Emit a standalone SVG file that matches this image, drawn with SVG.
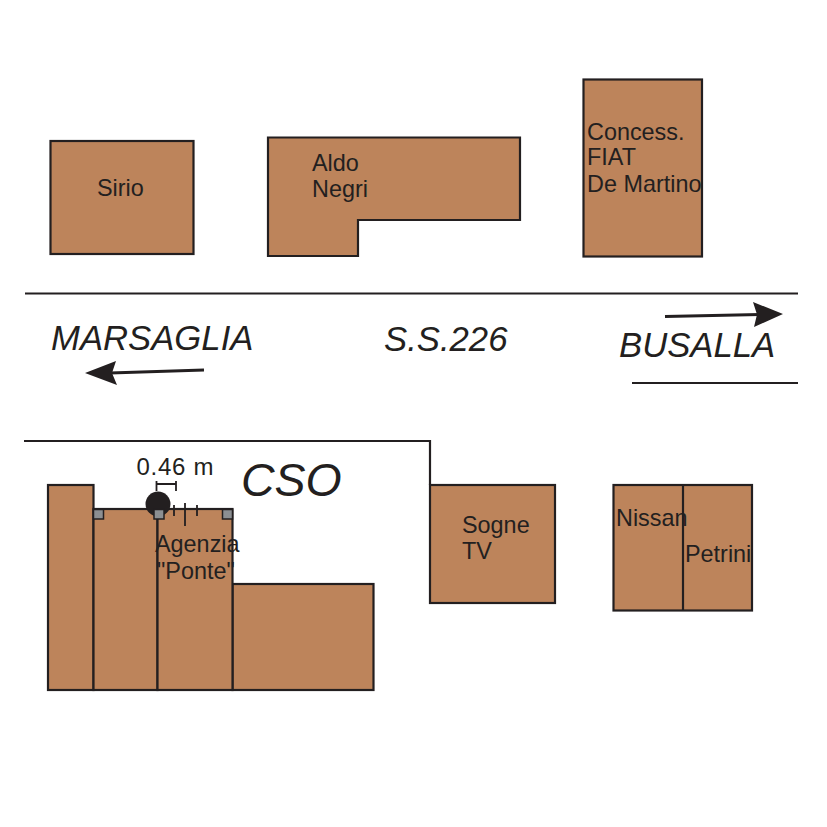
<svg xmlns="http://www.w3.org/2000/svg" width="827" height="827" viewBox="0 0 827 827">
<style>
.b{fill:#bd845b;stroke:#231f20;stroke-width:2.2}
.l{fill:none;stroke:#231f20;stroke-width:2.2}
.t{font-family:"Liberation Sans",Arial,sans-serif;font-size:23.400px;fill:#231f20}
.i{font-family:"Liberation Sans",Arial,sans-serif;font-style:italic;font-size:34.700px;fill:#231f20}
.s{fill:#8c8f92;stroke:#231f20;stroke-width:1.5}
.a{fill:#231f20}
</style>
<rect width="827" height="827" fill="#fff"/>
<g id="roads">
<path class="l" d="M25 293.500H798M632 383H798M24 441H430V485"/>
</g>
<g id="sirio"><rect class="b" x="50.500" y="141" width="143" height="113"/><text class="t" x="97" y="196">Sirio</text></g>
<g id="aldo-negri"><path class="b" d="M268 137.500H520V220H358V256H268Z"/><text class="t" x="312" y="171">Aldo</text><text class="t" x="312" y="197">Negri</text></g>
<g id="fiat"><rect class="b" x="583.500" y="79.500" width="118.500" height="177"/><text class="t" x="587" y="140">Concess.</text><text class="t" x="587" y="165">FIAT</text><text class="t" x="587" y="192">De Martino</text></g>
<g id="agenzia">
<rect class="b" x="48" y="485" width="45.500" height="205"/>
<rect class="b" x="232.500" y="584" width="141" height="106"/>
<rect class="b" x="93.500" y="509" width="64" height="181"/>
<rect class="b" x="157.500" y="509" width="75" height="181"/>
<circle class="a" cx="158" cy="504" r="12.500"/>
<rect class="s" x="93.500" y="509.500" width="10" height="9.500"/>
<rect class="s" x="154" y="509.500" width="10" height="9.500"/>
<rect class="s" x="222.500" y="509.500" width="10" height="9.500"/>
<path class="l" d="M156 484H176M156.500 481V491M176 481V491M174 505V516M185 503V526M197 505V516" style="stroke-width:1.800"/>
<text class="t" x="136.500" y="475" style="font-size:24px;letter-spacing:.7px">0.46 m</text>
<text class="t" x="155" y="552">Agenzia</text>
<text class="t" x="157" y="579">"Ponte"</text>
</g>
<g id="sogne"><rect class="b" x="430" y="485" width="125" height="118"/><text class="t" x="462" y="533">Sogne</text><text class="t" x="462" y="559">TV</text></g>
<g id="nissan-petrini"><rect class="b" x="613.500" y="485" width="138.500" height="125.500"/><path class="l" d="M683 485V610"/><text class="t" x="616" y="526">Nissan</text><text class="t" x="685" y="562">Petrini</text></g>
<g id="labels">
<text class="i" x="51" y="350">MARSAGLIA</text>
<text class="i" x="384" y="351">S.S.226</text>
<text class="i" x="619" y="357">BUSALLA</text>
<text class="i" x="241" y="496" style="font-size:46.500px">CSO</text>
</g>
<g id="connectors">
<path class="l" d="M665 316.500L760 314.500M204 370L110 373" style="stroke-width:3"/>
<path class="a" d="M783 314L753 302L757 314.500L754 327ZM85 373L116 361L112 373L117 385Z"/>
</g>
</svg>
